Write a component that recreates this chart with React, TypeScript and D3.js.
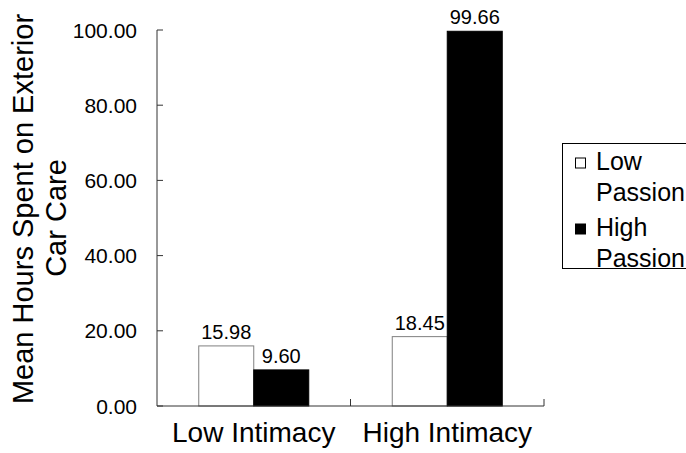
import React from "react";
import * as d3 from "d3";

const categories = ["Low Intimacy", "High Intimacy"];
const seriesNames = ["Low Passion", "High Passion"];
const lowPassion = [15.98, 18.45];
const highPassion = [9.6, 99.66];
const yTicks = [0, 20, 40, 60, 80, 100];

const W = 686;
const H = 453;
const FONT = "'Liberation Sans', Arial, Helvetica, sans-serif";

export default function App() {
  const left = 157, right = 544, top = 30, bottom = 406;
  const x0 = d3.scaleBand<string>().domain(categories).range([left, right]).padding(0);
  const pairW = 110;
  const pad = (x0.bandwidth() - pairW) / 2;
  const x1 = d3.scaleBand<string>().domain(seriesNames).range([pad, pad + pairW]).padding(0);
  const y = d3.scaleLinear().domain([0, 100]).range([bottom, top]);
  const fmt = d3.format(".2f");
  const values = [lowPassion, highPassion];
  const fills = ["#ffffff", "#000000"];
  const strokes = ["#808080", "#000000"];
  const boundaries = [left, ...categories.map((c) => (x0(c) as number) + x0.bandwidth())];

  return (
    <svg width={W} height={H} style={{ position: "absolute", left: 0, top: 0, background: "#fff" }} fontFamily={FONT}>
      <rect x={0} y={0} width={W} height={H} fill="#fff" />
      {/* bars */}
      {categories.map((c, ci) =>
        seriesNames.map((s, si) => {
          const v = values[si][ci];
          const bx = (x0(c) as number) + (x1(s) as number);
          const by = y(v);
          return (
            <g key={c + s}>
              <rect x={bx} y={by} width={x1.bandwidth()} height={bottom - by} fill={fills[si]} stroke={strokes[si]} strokeWidth={1} />
              <text x={bx + x1.bandwidth() / 2} y={by - 7} textAnchor="middle" fontSize={20} fill="#000">
                {fmt(v)}
              </text>
            </g>
          );
        })
      )}
      {/* y axis */}
      <line x1={left} x2={left} y1={top} y2={bottom} stroke="#333" strokeWidth={1} />
      {yTicks.map((t) => (
        <g key={t}>
          <line x1={left} x2={left + 6} y1={y(t)} y2={y(t)} stroke="#333" />
          <text x={left - 20} y={y(t) + 7.5} textAnchor="end" fontSize={21} fill="#000">
            {fmt(t)}
          </text>
        </g>
      ))}
      {/* x axis */}
      <line x1={left} x2={right} y1={bottom} y2={bottom} stroke="#333" strokeWidth={1} />
      {boundaries.slice(1).map((b, i) => (
        <line key={i} x1={b} x2={b} y1={bottom} y2={bottom - 7} stroke="#333" />
      ))}
      {categories.map((c) => (
        <text key={c} x={(x0(c) as number) + x0.bandwidth() / 2} y={442} textAnchor="middle" fontSize={28} fill="#000">
          {c}
        </text>
      ))}
      {/* y title */}
      <text transform={`translate(33,209) rotate(-90)`} textAnchor="middle" fontSize={29} fill="#000">
        Mean Hours Spent on Exterior
      </text>
      <text transform={`translate(66,218) rotate(-90)`} textAnchor="middle" fontSize={29} fill="#000">
        Car Care
      </text>
      {/* legend */}
      <rect x={562.5} y={143.5} width={140} height={125} fill="#fff" stroke="#000" strokeWidth={1} />
      {seriesNames.map((s, i) => {
        const words = s.split(" ");
        const base = i === 0 ? 170 : 236;
        return (
          <g key={s}>
            <rect x={575.5} y={base - 12} width={10} height={10} fill={fills[i]} stroke="#000" strokeWidth={1} />
            <text x={596} y={base} fontSize={25} fill="#000">{words[0]}</text>
            <text x={596} y={base + 31} fontSize={25} fill="#000">{words[1]}</text>
          </g>
        );
      })}
    </svg>
  );
}
